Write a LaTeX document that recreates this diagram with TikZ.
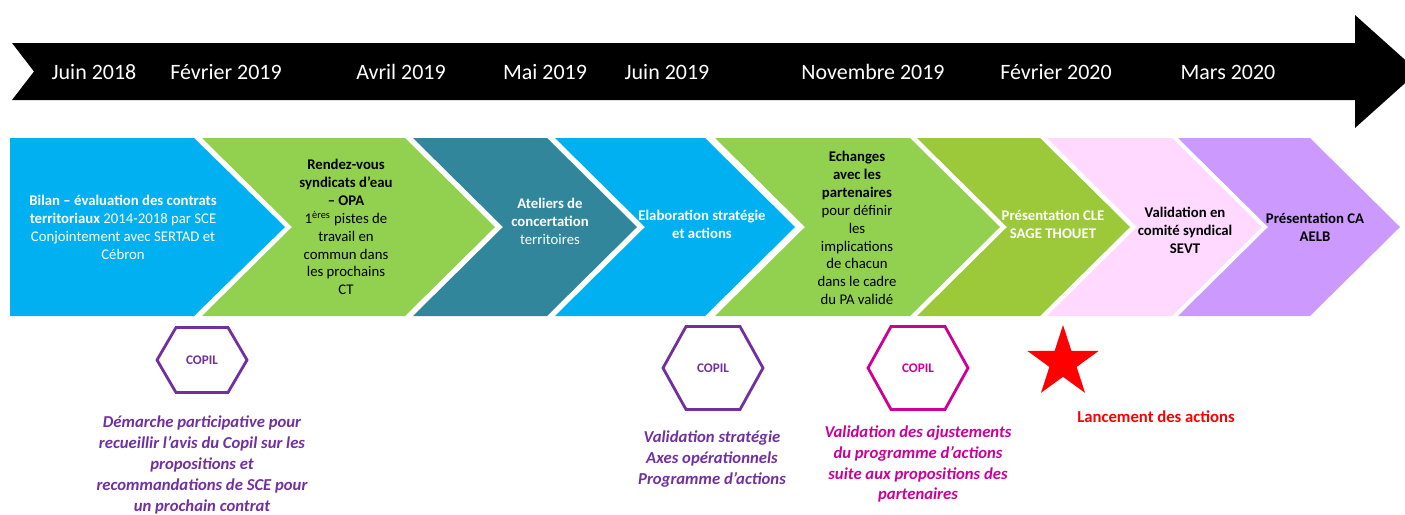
\documentclass[tikz,border=0pt]{standalone}
\usepackage{fontspec}
\setmainfont{Carlito}
\usetikzlibrary{shapes.geometric}

\definecolor{cblue}{HTML}{00B0F0}
\definecolor{cgreen}{HTML}{92D050}
\definecolor{cteal}{HTML}{31869B}
\definecolor{colive}{HTML}{9BC93A}
\definecolor{cpink}{HTML}{FFD9FF}
\definecolor{cviolet}{HTML}{CC99FF}
\definecolor{copilpurple}{HTML}{7030A0}
\definecolor{copilmagenta}{HTML}{CC0099}

\tikzset{
  date/.style={text=white, inner sep=0pt, font=\fontsize{12.5}{15}\selectfont},
  steptext/.style={align=center, inner sep=0pt, font=\fontsize{8.4}{10.2}\selectfont},
  copil/.style={inner sep=0pt, font=\bfseries\fontsize{7.5}{9}\selectfont},
  hexline/.style={line width=1.6pt, line join=miter},
  note/.style={align=center, inner sep=0pt, font=\bfseries\itshape\fontsize{9.5}{11.9}\selectfont},
}

\begin{document}
\begin{tikzpicture}[x=0.02cm, y=-0.02cm]
  \useasboundingbox (0,0) rectangle (1405,514);

  % timeline
  \fill (12,43) -- (1355,43) -- (1355,15) -- (1418,71.5) -- (1355,128) -- (1355,100) -- (12,100) -- (34,71.5) -- cycle;
  \node[date] (juin18) at (94,72) {Juin 2018};
  \node[date] (fev19) at (226,72) {Février 2019};
  \node[date] (avr19) at (401,72) {Avril 2019};
  \node[date] (mai19) at (545,72) {Mai 2019};
  \node[date] (juin19) at (667,72) {Juin 2019};
  \node[date] (nov19) at (873,72) {Novembre 2019};
  \node[date] (fev20) at (1056,72) {Février 2020};
  \node[date] (mars20) at (1228,72) {Mars 2020};

  % chevrons
  \fill[cblue] (10,138) -- (194,138) -- (285,227) -- (194,316) -- (10,316) -- cycle;
  \fill[cgreen] (202,138) -- (405,138) -- (495,227) -- (405,316) -- (202,316) -- (292,227) -- cycle;
  \fill[cteal] (413,138) -- (547,138) -- (637,227) -- (547,316) -- (413,316) -- (503,227) -- cycle;
  \fill[cblue] (555,138) -- (705,138) -- (795,227) -- (705,316) -- (555,316) -- (645,227) -- cycle;
  \fill[cgreen] (715,138) -- (910,138) -- (1000,227) -- (910,316) -- (715,316) -- (805,227) -- cycle;
  \fill[colive] (917,138) -- (1040,138) -- (1130,227) -- (1040,316) -- (917,316) -- (1007,227) -- cycle;
  \fill[cpink] (1047,138) -- (1172,138) -- (1262,227) -- (1172,316) -- (1047,316) -- (1137,227) -- cycle;
  \fill[cviolet] (1178,138) -- (1310,138) -- (1400,227) -- (1310,316) -- (1178,316) -- (1268,227) -- cycle;

  \node[steptext, text=white] (bilan) at (123,227)
    {\textbf{Bilan – évaluation des contrats}\\\textbf{territoriaux} 2014-2018 par SCE\\Conjointement avec SERTAD et\\Cébron};
  \node[steptext] (rdv) at (346,227)
    {\textbf{Rendez-vous}\\\textbf{syndicats d’eau}\\\textbf{– OPA}\\1\textsuperscript{ères} pistes de\\travail en\\commun dans\\les prochains\\CT};
  \node[steptext, text=white] (ateliers) at (550,221)
    {\textbf{Ateliers de}\\\textbf{concertation}\\territoires};
  \node[steptext, text=white, font=\bfseries\fontsize{8.4}{10.2}\selectfont] (elab) at (702,224)
    {Elaboration stratégie\\et actions};
  \node[steptext] (echanges) at (857,228)
    {\textbf{Echanges}\\\textbf{avec les}\\\textbf{partenaires}\\pour définir\\les\\implications\\de chacun\\dans le cadre\\du PA validé};
  \node[steptext, text=white, font=\bfseries\fontsize{8.4}{10.2}\selectfont] (cle) at (1053,224)
    {Présentation CLE\\SAGE THOUET};
  \node[steptext, font=\bfseries\fontsize{8.4}{10.2}\selectfont] (sevt) at (1185,230)
    {Validation en\\comité syndical\\SEVT};
  \node[steptext, font=\bfseries\fontsize{8.4}{10.2}\selectfont] (aelb) at (1315,227)
    {Présentation CA\\AELB};

  % copil
  \node[copil, text=copilpurple] (copil1) at (202,360) {COPIL};
  \draw[hexline, copilpurple] (copil1.center) ++(-45,0) -- ++(19,-32.5) -- ++(52,0) -- ++(19,32.5) -- ++(-19,32.5) -- ++(-52,0) -- cycle;
  \node[copil, text=copilpurple] (copil2) at (713,368) {COPIL};
  \draw[hexline, copilpurple] (copil2.center) ++(-50,0) -- ++(23,-41.5) -- ++(54,0) -- ++(23,41.5) -- ++(-23,41.5) -- ++(-54,0) -- cycle;
  \node[copil, text=copilmagenta] (copil3) at (918,368) {COPIL};
  \draw[hexline, copilmagenta] (copil3.center) ++(-50,0) -- ++(23,-41.5) -- ++(54,0) -- ++(23,41.5) -- ++(-23,41.5) -- ++(-54,0) -- cycle;
  \node[star, star points=5, star point ratio=2.618, fill=red, minimum size=1.5cm, inner sep=0pt] (launch) at (1063,362.5) {};

  \node[note, text=copilpurple] (demarche) at (202,465)
    {Démarche participative pour\\recueillir l’avis du Copil sur les\\propositions et\\recommandations de SCE pour\\un prochain contrat};
  \node[note, text=copilpurple] (strategie) at (712,459)
    {Validation stratégie\\Axes opérationnels\\Programme d’actions};
  \node[note, text=copilmagenta] (ajust) at (918,464)
    {Validation des ajustements\\du programme d’actions\\suite aux propositions des\\partenaires};
  \node[note, text=red, font=\bfseries\fontsize{9.5}{11.9}\selectfont] (lancement) at (1156,417)
    {Lancement des actions};
\end{tikzpicture}
\end{document}
